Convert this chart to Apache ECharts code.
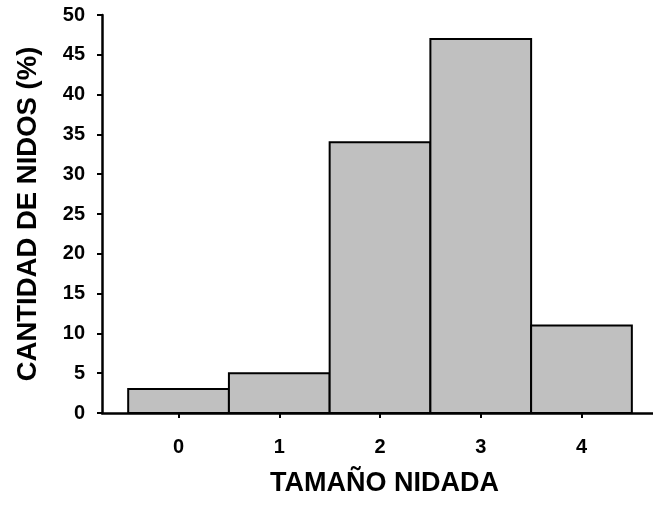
<!DOCTYPE html>
<html><head><meta charset="utf-8">
<script src="https://cdn.jsdelivr.net/npm/echarts@6/dist/echarts.min.js"></script>
<style>html,body{margin:0;padding:0;background:#fff}#c{width:653px;height:505px}</style>
</head><body><div id="c"></div>
<script>
const categories = [0, 1, 2, 3, 4];
const values = [3, 5, 34, 47, 11];
const yTicks = [0, 5, 10, 15, 20, 25, 30, 35, 40, 45, 50];
const xTitle = 'TAMAÑO NIDADA';
const yTitle = 'CANTIDAD DE NIDOS (%)';

const chart = echarts.init(document.getElementById('c'));
const font = 'Liberation Sans, Arial, sans-serif';
chart.setOption({
  animation: false,
  grid: {left: 102, top: 15, right: 0, bottom: 92, containLabel: false, outerBoundsMode: 'none'},
  xAxis: {
    type: 'value', min: -0.76, max: 4.71,
    name: xTitle, nameLocation: 'middle', nameGap: 57,
    nameTextStyle: {fontFamily: font, fontWeight: 'bold', fontSize: 27, color: '#000', padding: [0, 0, 0, 14]},
    axisLine: {show: true, onZero: false, lineStyle: {color: '#000', width: 2.5}},
    axisTick: {show: true, length: 5, inside: false, customValues: categories, lineStyle: {color: '#000', width: 2}},
    axisLabel: {customValues: categories, margin: 24, fontFamily: font, fontWeight: 'bold', fontSize: 20, color: '#000'},
    splitLine: {show: false}
  },
  yAxis: {
    type: 'value', min: 0, max: 50, interval: 5,
    name: yTitle, nameLocation: 'middle', nameGap: 60,
    nameTextStyle: {fontFamily: font, fontWeight: 'bold', fontSize: 27.5, color: '#000'},
    axisLine: {show: true, onZero: false, lineStyle: {color: '#000', width: 2.5}},
    axisTick: {show: true, length: 5, inside: false, lineStyle: {color: '#000', width: 2}},
    axisLabel: {margin: 17, fontFamily: font, fontWeight: 'bold', fontSize: 20, color: '#000'},
    splitLine: {show: false}
  },
  series: [{
    type: 'custom',
    data: categories.map((c, i) => [c, values[i]]),
    renderItem: function (params, api) {
      const x = api.value(0), v = api.value(1);
      const p1 = api.coord([x - 0.5, v]);
      const p2 = api.coord([x + 0.5, 0]);
      return {
        type: 'rect',
        shape: {x: p1[0], y: p1[1], width: p2[0] - p1[0], height: p2[1] - p1[1]},
        style: {fill: '#c0c0c0', stroke: '#000', lineWidth: 2}
      };
    }
  }]
});
</script></body></html>
